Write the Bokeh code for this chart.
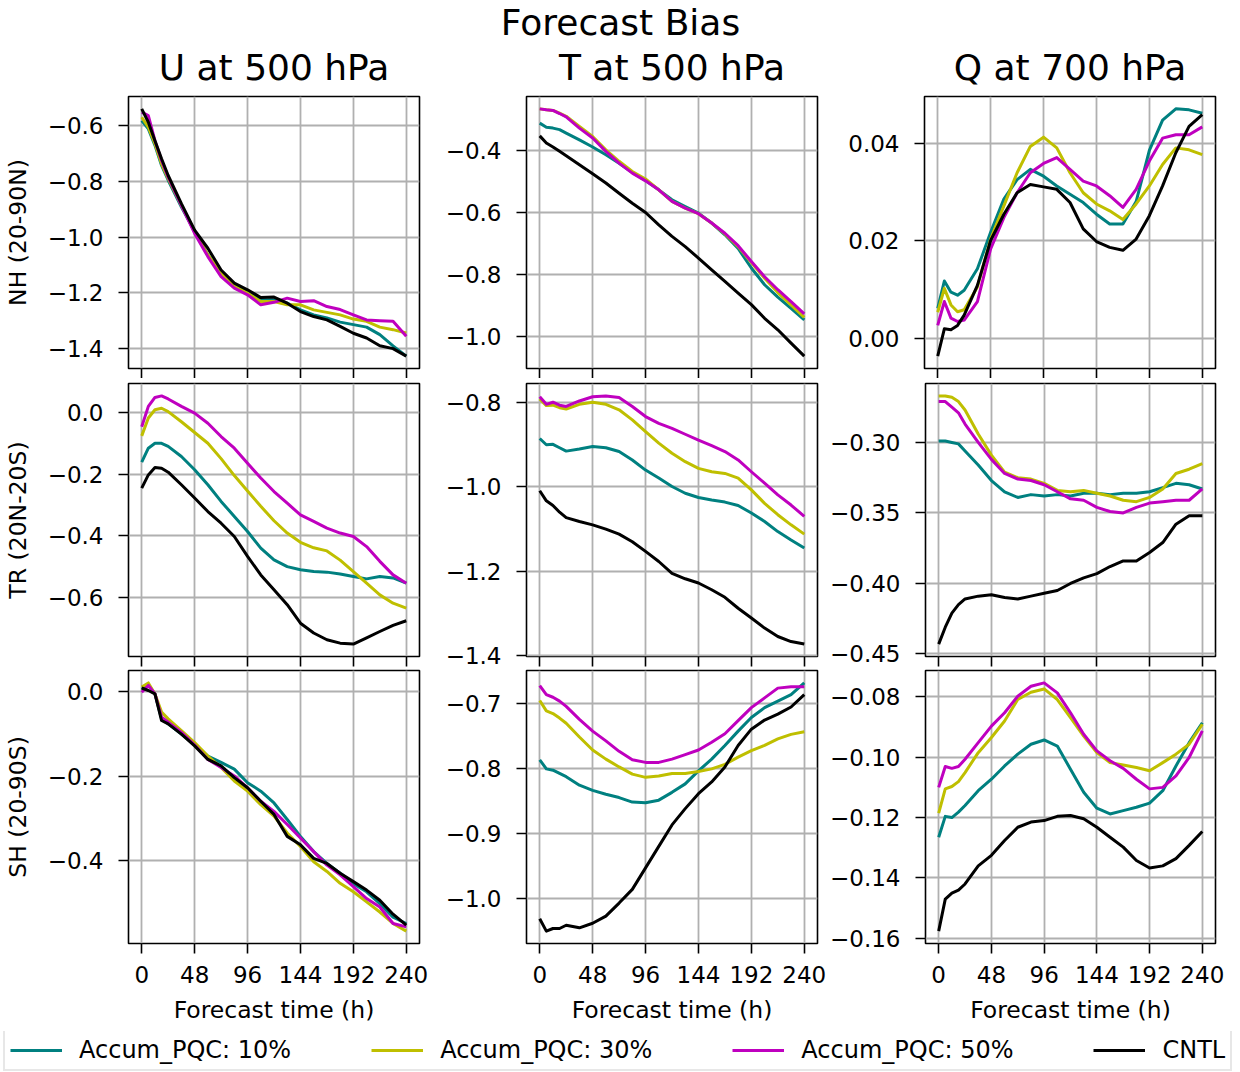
from bokeh.plotting import figure
from bokeh.layouts import column, row
from bokeh.models import (FixedTicker, CustomJSTickFormatter, Range1d, Label,
                          Legend, LegendItem)
from bokeh.embed import file_html
from bokeh.resources import INLINE

FONT = "DejaVu Sans"

# ---------------- data ----------------
hours = [0, 6, 12, 18, 24, 36, 48, 60, 72, 84, 96, 108, 120, 132, 144, 156, 168, 180, 192, 204, 216, 228, 240]
x_ticks = [0, 48, 96, 144, 192, 240]

series_labels = ["Accum_PQC: 10%", "Accum_PQC: 30%", "Accum_PQC: 50%", "CNTL"]
series_colors = ["#008080", "#bfbf00", "#bf00bf", "#000000"]

main_title = "Forecast Bias"
column_titles = ["U at 500 hPa", "T at 500 hPa", "Q at 700 hPa"]
row_labels = ["NH (20-90N)", "TR (20N-20S)", "SH (20-90S)"]
x_label = "Forecast time (h)"

# U at 500 hPa, NH
u_nh_p10 = [-0.582, -0.612, -0.671, -0.743, -0.796, -0.892, -0.980, -1.064, -1.130, -1.171, -1.195, -1.225, -1.225, -1.237, -1.261, -1.279, -1.290, -1.305, -1.314, -1.323, -1.350, -1.390, -1.427]
u_nh_p30 = [-0.570, -0.606, -0.665, -0.737, -0.790, -0.886, -0.980, -1.064, -1.130, -1.177, -1.201, -1.231, -1.231, -1.243, -1.243, -1.261, -1.270, -1.279, -1.294, -1.302, -1.323, -1.332, -1.344]
u_nh_p50 = [-0.552, -0.564, -0.654, -0.725, -0.785, -0.886, -0.987, -1.070, -1.142, -1.183, -1.207, -1.243, -1.234, -1.219, -1.231, -1.228, -1.249, -1.260, -1.279, -1.297, -1.300, -1.302, -1.356]
u_nh_cntl = [-0.540, -0.588, -0.654, -0.719, -0.779, -0.880, -0.975, -1.040, -1.118, -1.165, -1.189, -1.217, -1.215, -1.237, -1.267, -1.285, -1.297, -1.320, -1.345, -1.362, -1.390, -1.400, -1.427]

# T at 500 hPa, NH
t_nh_p10 = [-0.311, -0.324, -0.327, -0.332, -0.343, -0.365, -0.388, -0.413, -0.440, -0.470, -0.496, -0.526, -0.558, -0.580, -0.601, -0.633, -0.671, -0.715, -0.778, -0.832, -0.872, -0.908, -0.945]
t_nh_p30 = [-0.265, -0.268, -0.270, -0.279, -0.289, -0.322, -0.354, -0.397, -0.434, -0.467, -0.491, -0.526, -0.563, -0.585, -0.603, -0.633, -0.668, -0.709, -0.760, -0.811, -0.857, -0.897, -0.937]
t_nh_p50 = [-0.265, -0.268, -0.270, -0.280, -0.291, -0.327, -0.359, -0.402, -0.440, -0.472, -0.497, -0.526, -0.563, -0.585, -0.603, -0.633, -0.666, -0.706, -0.757, -0.806, -0.848, -0.886, -0.926]
t_nh_cntl = [-0.352, -0.375, -0.388, -0.402, -0.416, -0.445, -0.474, -0.504, -0.537, -0.569, -0.599, -0.639, -0.676, -0.709, -0.746, -0.784, -0.821, -0.859, -0.896, -0.940, -0.977, -1.020, -1.062]

# Q at 700 hPa, NH
q_nh_p10 = [0.0061, 0.0117, 0.0094, 0.0088, 0.0098, 0.0142, 0.0217, 0.0285, 0.0325, 0.0346, 0.0332, 0.0312, 0.0295, 0.0278, 0.0254, 0.0234, 0.0234, 0.0280, 0.0385, 0.0447, 0.0470, 0.0468, 0.0461]
q_nh_p30 = [0.0053, 0.0102, 0.0068, 0.0054, 0.0058, 0.0105, 0.0203, 0.0271, 0.0339, 0.0393, 0.0412, 0.0390, 0.0339, 0.0298, 0.0275, 0.0261, 0.0243, 0.0275, 0.0312, 0.0356, 0.0390, 0.0386, 0.0376]
q_nh_p50 = [0.0026, 0.0075, 0.0041, 0.0034, 0.0037, 0.0075, 0.0183, 0.0247, 0.0298, 0.0339, 0.0358, 0.0370, 0.0346, 0.0322, 0.0312, 0.0292, 0.0268, 0.0305, 0.0363, 0.0410, 0.0417, 0.0417, 0.0433]
q_nh_cntl = [-0.0037, 0.0019, 0.0017, 0.0026, 0.0047, 0.0108, 0.0200, 0.0254, 0.0298, 0.0315, 0.0310, 0.0305, 0.0278, 0.0224, 0.0198, 0.0186, 0.0180, 0.0203, 0.0251, 0.0312, 0.0380, 0.0434, 0.0458]

# U at 500 hPa, TR
u_tr_p10 = [-0.161, -0.116, -0.100, -0.100, -0.110, -0.143, -0.186, -0.235, -0.289, -0.338, -0.387, -0.441, -0.479, -0.501, -0.511, -0.517, -0.519, -0.525, -0.533, -0.541, -0.533, -0.538, -0.555]
u_tr_p30 = [-0.076, -0.018, 0.009, 0.014, 0.003, -0.030, -0.065, -0.100, -0.150, -0.205, -0.255, -0.305, -0.352, -0.392, -0.422, -0.440, -0.450, -0.480, -0.517, -0.555, -0.593, -0.620, -0.636]
u_tr_p50 = [-0.046, 0.020, 0.049, 0.054, 0.044, 0.020, -0.002, -0.035, -0.078, -0.116, -0.165, -0.213, -0.257, -0.295, -0.333, -0.354, -0.376, -0.392, -0.403, -0.436, -0.484, -0.528, -0.555]
u_tr_cntl = [-0.246, -0.203, -0.179, -0.181, -0.194, -0.235, -0.278, -0.322, -0.360, -0.403, -0.468, -0.528, -0.576, -0.625, -0.685, -0.717, -0.739, -0.750, -0.753, -0.733, -0.712, -0.692, -0.677]

# T at 500 hPa, TR
t_tr_p10 = [-0.885, -0.900, -0.899, -0.907, -0.915, -0.910, -0.904, -0.907, -0.916, -0.936, -0.960, -0.979, -0.999, -1.015, -1.025, -1.031, -1.036, -1.044, -1.062, -1.082, -1.106, -1.126, -1.145]
t_tr_p30 = [-0.791, -0.807, -0.806, -0.812, -0.815, -0.804, -0.799, -0.804, -0.817, -0.841, -0.869, -0.896, -0.920, -0.940, -0.956, -0.964, -0.968, -0.979, -1.007, -1.039, -1.066, -1.090, -1.112]
t_tr_p50 = [-0.786, -0.804, -0.799, -0.806, -0.809, -0.796, -0.786, -0.784, -0.788, -0.809, -0.833, -0.849, -0.861, -0.875, -0.889, -0.902, -0.916, -0.936, -0.964, -0.991, -1.019, -1.043, -1.070]
t_tr_cntl = [-1.009, -1.033, -1.044, -1.060, -1.073, -1.082, -1.090, -1.100, -1.112, -1.130, -1.153, -1.177, -1.205, -1.218, -1.228, -1.244, -1.262, -1.288, -1.311, -1.335, -1.355, -1.367, -1.373]

# Q at 700 hPa, TR
q_tr_p10 = [-0.299, -0.299, -0.300, -0.301, -0.306, -0.316, -0.327, -0.335, -0.339, -0.337, -0.338, -0.337, -0.338, -0.336, -0.336, -0.337, -0.336, -0.336, -0.335, -0.332, -0.329, -0.330, -0.333]
q_tr_p30 = [-0.267, -0.267, -0.268, -0.271, -0.277, -0.294, -0.309, -0.321, -0.325, -0.326, -0.329, -0.334, -0.335, -0.334, -0.336, -0.338, -0.341, -0.342, -0.339, -0.333, -0.322, -0.319, -0.315]
q_tr_p50 = [-0.271, -0.271, -0.275, -0.279, -0.287, -0.300, -0.312, -0.322, -0.326, -0.327, -0.330, -0.335, -0.340, -0.341, -0.346, -0.349, -0.350, -0.346, -0.343, -0.342, -0.341, -0.341, -0.333]
q_tr_cntl = [-0.443, -0.431, -0.421, -0.415, -0.411, -0.409, -0.408, -0.410, -0.411, -0.409, -0.407, -0.405, -0.400, -0.396, -0.393, -0.388, -0.384, -0.384, -0.378, -0.371, -0.358, -0.352, -0.352]

# U at 500 hPa, SH
u_sh_p10 = [0.006, 0.015, -0.005, -0.064, -0.076, -0.100, -0.124, -0.152, -0.167, -0.183, -0.215, -0.235, -0.263, -0.302, -0.342, -0.378, -0.406, -0.429, -0.454, -0.473, -0.501, -0.533, -0.548]
u_sh_p30 = [0.011, 0.021, -0.005, -0.048, -0.064, -0.092, -0.120, -0.152, -0.179, -0.211, -0.235, -0.267, -0.294, -0.334, -0.366, -0.402, -0.425, -0.453, -0.473, -0.497, -0.521, -0.548, -0.566]
u_sh_p50 = [-0.001, 0.015, -0.005, -0.060, -0.072, -0.096, -0.126, -0.160, -0.179, -0.199, -0.227, -0.259, -0.283, -0.314, -0.346, -0.378, -0.410, -0.433, -0.461, -0.489, -0.509, -0.548, -0.556]
u_sh_cntl = [0.009, 0.003, -0.005, -0.068, -0.076, -0.100, -0.128, -0.160, -0.175, -0.203, -0.227, -0.259, -0.290, -0.342, -0.362, -0.394, -0.406, -0.429, -0.449, -0.469, -0.493, -0.526, -0.552]

# T at 500 hPa, SH
t_sh_p10 = [-0.787, -0.801, -0.803, -0.808, -0.813, -0.826, -0.834, -0.840, -0.845, -0.852, -0.853, -0.849, -0.837, -0.824, -0.804, -0.786, -0.765, -0.743, -0.722, -0.707, -0.697, -0.687, -0.669]
t_sh_p30 = [-0.696, -0.712, -0.716, -0.723, -0.731, -0.752, -0.772, -0.786, -0.798, -0.809, -0.814, -0.812, -0.808, -0.808, -0.805, -0.801, -0.794, -0.783, -0.773, -0.765, -0.755, -0.748, -0.744]
t_sh_p50 = [-0.673, -0.687, -0.691, -0.697, -0.705, -0.725, -0.743, -0.758, -0.774, -0.787, -0.791, -0.791, -0.786, -0.779, -0.772, -0.760, -0.747, -0.727, -0.707, -0.692, -0.677, -0.675, -0.675]
t_sh_cntl = [-1.031, -1.050, -1.046, -1.046, -1.041, -1.045, -1.038, -1.027, -1.007, -0.986, -0.953, -0.920, -0.887, -0.862, -0.839, -0.821, -0.798, -0.765, -0.740, -0.726, -0.717, -0.706, -0.687]

# Q at 700 hPa, SH
q_sh_p10 = [-0.1265, -0.1196, -0.1200, -0.1182, -0.1160, -0.1111, -0.1073, -0.1029, -0.0990, -0.0957, -0.0943, -0.0963, -0.1040, -0.1116, -0.1169, -0.1188, -0.1177, -0.1166, -0.1152, -0.1111, -0.1029, -0.0952, -0.0886]
q_sh_p30 = [-0.1185, -0.1105, -0.1097, -0.1081, -0.1051, -0.0985, -0.0935, -0.0880, -0.0809, -0.0785, -0.0774, -0.0809, -0.0869, -0.0930, -0.0985, -0.1018, -0.1026, -0.1034, -0.1045, -0.1018, -0.0990, -0.0957, -0.0891]
q_sh_p50 = [-0.1100, -0.1031, -0.1037, -0.1031, -0.1007, -0.0952, -0.0897, -0.0853, -0.0798, -0.0765, -0.0754, -0.0787, -0.0853, -0.0924, -0.0979, -0.1012, -0.1037, -0.1073, -0.1105, -0.1100, -0.1062, -0.1001, -0.0913]
q_sh_cntl = [-0.1576, -0.1470, -0.1450, -0.1440, -0.1420, -0.1360, -0.1325, -0.1276, -0.1232, -0.1215, -0.1210, -0.1196, -0.1193, -0.1204, -0.1232, -0.1265, -0.1298, -0.1342, -0.1367, -0.1360, -0.1336, -0.1292, -0.1246]

# y tick values
yticks_u_nh = [-1.4, -1.2, -1.0, -0.8, -0.6]
yticks_t_nh = [-1.0, -0.8, -0.6, -0.4]
yticks_q_nh = [0.00, 0.02, 0.04]
yticks_u_tr = [-0.6, -0.4, -0.2, 0.0]
yticks_t_tr = [-1.4, -1.2, -1.0, -0.8]
yticks_q_tr = [-0.45, -0.40, -0.35, -0.30]
yticks_u_sh = [-0.4, -0.2, 0.0]
yticks_t_sh = [-1.0, -0.9, -0.8, -0.7]
yticks_q_sh = [-0.16, -0.14, -0.12, -0.10, -0.08]

panel_series = [
    [[u_nh_p10, u_nh_p30, u_nh_p50, u_nh_cntl], [t_nh_p10, t_nh_p30, t_nh_p50, t_nh_cntl], [q_nh_p10, q_nh_p30, q_nh_p50, q_nh_cntl]],
    [[u_tr_p10, u_tr_p30, u_tr_p50, u_tr_cntl], [t_tr_p10, t_tr_p30, t_tr_p50, t_tr_cntl], [q_tr_p10, q_tr_p30, q_tr_p50, q_tr_cntl]],
    [[u_sh_p10, u_sh_p30, u_sh_p50, u_sh_cntl], [t_sh_p10, t_sh_p30, t_sh_p50, t_sh_cntl], [q_sh_p10, q_sh_p30, q_sh_p50, q_sh_cntl]],
]
panel_yticks = [
    [yticks_u_nh, yticks_t_nh, yticks_q_nh],
    [yticks_u_tr, yticks_t_tr, yticks_q_tr],
    [yticks_u_sh, yticks_t_sh, yticks_q_sh],
]
col_decimals = [1, 1, 2]

# ---------------- layout ----------------
FRAME_W, FRAME_H = 291, 273
LEFT = [128, 97, 97]
RIGHT = 10
TOP = [5, 5, 1]
BOTTOM = [9, 13, 88]
HEADER_H = 91
LEGEND_H = 40
TOTAL_W = sum(LEFT) + 3 * (FRAME_W + RIGHT)
LEGEND_W = 1238

TICK_SIZE = "23px"
LABEL_SIZE = "23.5px"
TITLE_SIZE = "36px"
LINE_W = 3


def make_panel(ri, ci):
    series = panel_series[ri][ci]
    allv = [v for s in series for v in s]
    lo, hi = min(allv), max(allv)
    pad = 0.05 * (hi - lo)
    p = figure(width=LEFT[ci] + FRAME_W + RIGHT, height=TOP[ri] + FRAME_H + BOTTOM[ri],
               x_range=Range1d(-12, 252), y_range=Range1d(lo - pad, hi + pad),
               output_backend="svg", toolbar_location=None, title=None,
               min_border_left=LEFT[ci], min_border_right=RIGHT,
               min_border_top=TOP[ri], min_border_bottom=BOTTOM[ri])
    for vals, color in zip(series, series_colors):
        p.line(hours, vals, line_color=color, line_width=LINE_W, line_join="round")

    p.outline_line_color = "black"
    p.outline_line_width = 1.6
    p.grid.grid_line_color = "#b0b0b0"
    p.grid.grid_line_width = 1.8

    p.xaxis.ticker = FixedTicker(ticks=x_ticks)
    p.yaxis.ticker = FixedTicker(ticks=panel_yticks[ri][ci])
    p.yaxis.formatter = CustomJSTickFormatter(
        code="return tick.toFixed(%d).replace('-', '\\u2212');" % col_decimals[ci])

    for ax in (p.xaxis[0], p.yaxis[0]):
        ax.axis_line_color = None
        ax.minor_tick_line_color = None
        ax.major_tick_in = 0
        ax.major_tick_out = 10
        ax.major_tick_line_width = 1.6
        ax.major_tick_line_color = "black"
        ax.major_label_text_font = FONT
        ax.major_label_text_font_size = TICK_SIZE
        ax.major_label_text_color = "black"
        ax.axis_label_text_font = FONT
        ax.axis_label_text_font_size = LABEL_SIZE
        ax.axis_label_text_font_style = "normal"
        ax.axis_label_text_color = "black"

    p.yaxis.major_label_standoff = 15
    if ri == 2:
        p.xaxis.major_label_standoff = 12
        p.xaxis.axis_label = x_label
        p.xaxis.axis_label_standoff = 10
    else:
        p.xaxis.formatter = CustomJSTickFormatter(code="return '';")
        p.xaxis.major_label_text_font_size = "0px"
        p.xaxis.major_label_standoff = 0
    if ci == 0:
        p.yaxis.axis_label = row_labels[ri]
        p.yaxis.axis_label_standoff = 13
    return p


rows = []
for ri in range(3):
    rows.append(row(*[make_panel(ri, ci) for ci in range(3)], spacing=0))

# header with titles
header = figure(width=TOTAL_W, height=HEADER_H, x_range=Range1d(0, 1), y_range=Range1d(0, 1),
                output_backend="svg", toolbar_location=None, title=None,
                x_axis_location=None, y_axis_location=None, min_border=0,
                outline_line_color=None)
header.grid.visible = False
header.add_layout(Label(x=620, y=HEADER_H - 22, x_units="screen", y_units="screen",
                        text=main_title, text_align="center", text_baseline="middle",
                        text_font=FONT, text_font_size=TITLE_SIZE, text_color="black"))
xstart = 0
for ci in range(3):
    xstart += LEFT[ci]
    cx = xstart + FRAME_W / 2
    header.add_layout(Label(x=cx, y=HEADER_H - 67, x_units="screen", y_units="screen",
                            text=column_titles[ci], text_align="center", text_baseline="middle",
                            text_font=FONT, text_font_size=TITLE_SIZE, text_color="black"))
    xstart += FRAME_W + RIGHT

# legend strip
nan = float("nan")
lg = figure(width=LEGEND_W, height=LEGEND_H, x_range=Range1d(0, 1), y_range=Range1d(0, 1),
            output_backend="svg", toolbar_location=None, title=None,
            x_axis_location=None, y_axis_location=None, min_border=0,
            outline_line_color=None)
lg.grid.visible = False
items = []
for name, color in zip(series_labels, series_colors):
    r = lg.line(x=[nan, nan], y=[nan, nan], line_color=color, line_width=LINE_W)
    items.append(LegendItem(label=name, renderers=[r]))
legend = Legend(items=items, orientation="horizontal", location=(3, 0), margin=0,
                padding=5, spacing=80, glyph_width=52, glyph_height=26, label_height=26,
                label_standoff=17, label_text_font=FONT, label_text_font_size="24px",
                label_text_color="black", border_line_color="#d0d0d0", border_line_width=2,
                background_fill_color="white", background_fill_alpha=1.0)
lg.add_layout(legend, "center")

layout = column(header, *rows, lg, spacing=0)

with open("out.html", "w", encoding="utf-8") as f:
    f.write(file_html(layout, INLINE))
